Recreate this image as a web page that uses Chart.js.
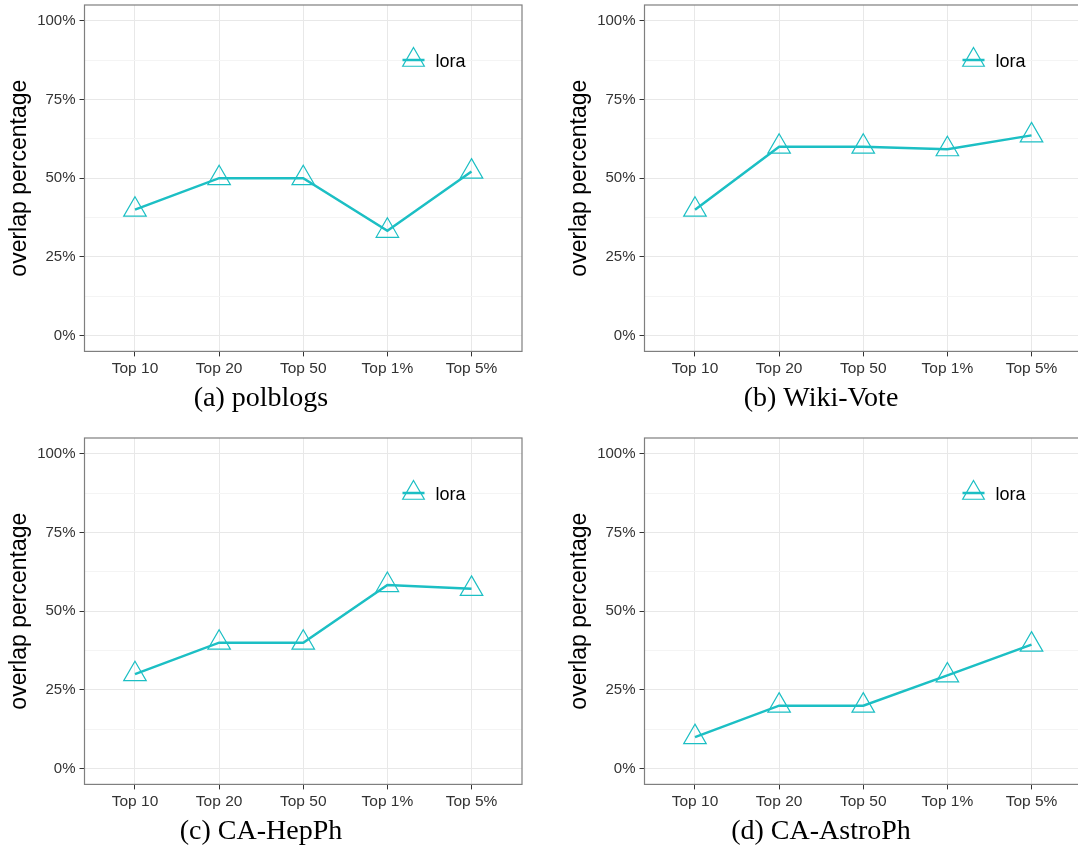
<!DOCTYPE html>
<html>
<head>
<meta charset="utf-8">
<script src="https://cdn.jsdelivr.net/npm/chart.js@4.4.0/dist/chart.umd.min.js"></script>
<style>
  html, body { margin: 0; padding: 0; background: #fff; overflow: hidden; }
  body { width: 1078px; height: 850px; position: relative; }
  .panel { position: absolute; width: 540px; height: 433px; }
</style>
</head>
<body>
<div class="panel" style="left:0;top:0"><canvas id="chartA"></canvas></div>
<div class="panel" style="left:560px;top:0"><canvas id="chartB"></canvas></div>
<div class="panel" style="left:0;top:433px"><canvas id="chartC"></canvas></div>
<div class="panel" style="left:560px;top:433px"><canvas id="chartD"></canvas></div>
<script>
// categories and values (overlap in %)
const categories = ['Top 10', 'Top 20', 'Top 50', 'Top 1%', 'Top 5%'];
const yTickValues = [0, 12.5, 25, 37.5, 50, 62.5, 75, 87.5, 100];
const seriesName = 'lora';

const polblogs = [40, 50, 50, 33.3, 52.1];
const wikiVote = [40, 60, 60, 59.2, 63.6];
const caHepPh = [30, 40, 40, 58.3, 57.1];
const caAstroPh = [10, 20, 20, 29.6, 39.4];

const captions = ['(a) polblogs', '(b) Wiki-Vote', '(c) CA-HepPh', '(d) CA-AstroPh'];

const teal = '#1cbfc4';
const sans = '"Liberation Sans", Arial, sans-serif';

// grey frame round the plot area
const framePlugin = {
    id: 'frame',
    afterDraw(chart) {
        const { ctx, chartArea: a } = chart;
        ctx.save();
        ctx.strokeStyle = '#7f7f7f';
        ctx.lineWidth = 1.2;
        ctx.strokeRect(a.left, a.top, a.right - a.left, a.bottom - a.top);
        ctx.restore();
    }
};

// legend key drawn inside the plot, top right
const insideLegend = {
    id: 'insideLegend',
    afterDraw(chart) {
        const { ctx, chartArea: a } = chart;
        const ds = chart.data.datasets[0];
        const kx = a.left + 329;
        const ky = a.top + 55;
        ctx.save();
        ctx.strokeStyle = ds.borderColor;
        ctx.lineWidth = 2.5;
        ctx.beginPath();
        ctx.moveTo(kx - 11, ky);
        ctx.lineTo(kx + 11, ky);
        ctx.stroke();
        ctx.lineWidth = 1.2;
        ctx.fillStyle = 'rgba(0,0,0,0)';
        Chart.helpers.drawPoint(ctx, { pointStyle: 'triangle', radius: 12.5, borderWidth: 1.2, rotation: 0 }, kx, ky);
        ctx.fillStyle = '#000';
        ctx.font = '18px ' + sans;
        ctx.textBaseline = 'middle';
        ctx.textAlign = 'left';
        ctx.fillText(ds.label, kx + 22, ky + 2);
        ctx.restore();
    }
};

function makeChart(id, values, caption) {
    const points = values.map((v, i) => ({ x: i + 1, y: v }));
    new Chart(document.getElementById(id), {
        type: 'line',
        data: {
            datasets: [{
                label: seriesName,
                data: points,
                borderColor: teal,
                borderWidth: 2.5,
                tension: 0,
                pointStyle: 'triangle',
                pointRadius: 13,
                pointBorderWidth: 1.2,
                pointBorderColor: teal,
                pointBackgroundColor: 'rgba(0,0,0,0)'
            }]
        },
        options: {
            responsive: true,
            maintainAspectRatio: false,
            animation: false,
            events: [],
            layout: { autoPadding: false, padding: { top: 5, left: 0, right: 18, bottom: 18 } },
            plugins: {
                legend: { display: false },
                tooltip: { enabled: false },
                title: {
                    display: true,
                    position: 'bottom',
                    text: caption,
                    color: '#000',
                    padding: 0,
                    font: { family: '"Liberation Serif", "Times New Roman", serif', size: 28, weight: 'normal' }
                }
            },
            scales: {
                x: {
                    type: 'linear',
                    min: 0.4,
                    max: 5.6,
                    afterBuildTicks: s => { s.ticks = categories.map((c, i) => ({ value: i + 1 })); },
                    afterFit: s => { s.height = 30; s.paddingLeft = 0; s.paddingRight = 0; },
                    border: { display: false },
                    grid: { color: '#e8e8e8', lineWidth: 1, tickLength: 5, tickColor: '#333' },
                    ticks: {
                        autoSkip: false,
                        maxRotation: 0,
                        padding: 3,
                        color: '#333',
                        font: { family: sans, size: 15.5 },
                        callback: v => categories[v - 1]
                    }
                },
                y: {
                    min: -5,
                    max: 105,
                    afterBuildTicks: s => { s.ticks = yTickValues.map(v => ({ value: v })); },
                    afterFit: s => { s.width = 84.5; s.paddingTop = 0; s.paddingBottom = 0; },
                    border: { display: false },
                    grid: {
                        color: c => (c.tick && c.tick.value % 25 === 0) ? '#e8e8e8' : '#f4f4f4',
                        tickColor: c => (c.tick && c.tick.value % 25 === 0) ? '#333' : 'rgba(0,0,0,0)',
                        lineWidth: 1,
                        tickLength: 5
                    },
                    ticks: {
                        padding: 4,
                        color: '#333',
                        font: { family: sans, size: 15 },
                        callback: v => (v % 25 === 0 ? v + '%' : '')
                    },
                    title: {
                        display: true,
                        text: 'overlap percentage',
                        color: '#000',
                        padding: { top: 6, bottom: 0 },
                        font: { family: sans, size: 23 }
                    }
                }
            }
        },
        plugins: [framePlugin, insideLegend]
    });
}

makeChart('chartA', polblogs, captions[0]);
makeChart('chartB', wikiVote, captions[1]);
makeChart('chartC', caHepPh, captions[2]);
makeChart('chartD', caAstroPh, captions[3]);
</script>
</body>
</html>
